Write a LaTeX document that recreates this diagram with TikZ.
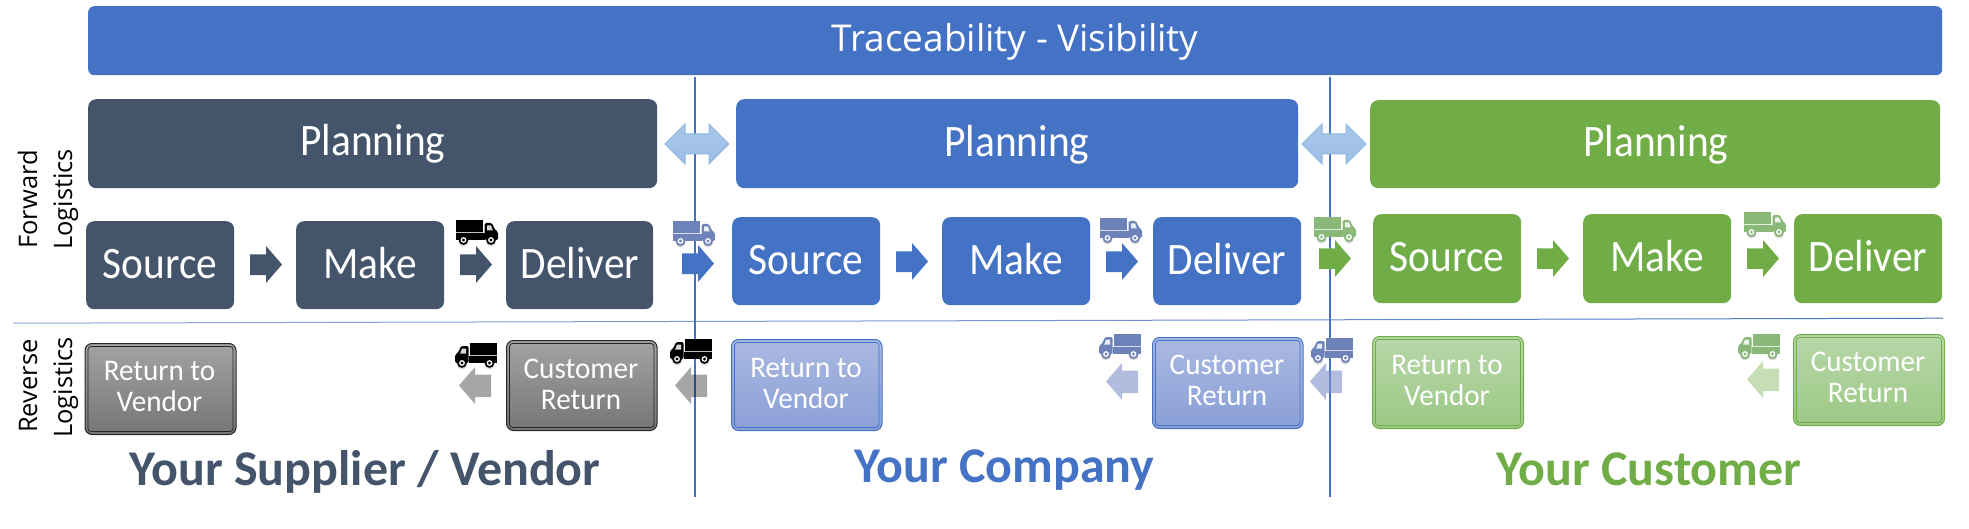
\documentclass[tikz,border=0pt]{standalone}
\usepackage{fontspec}
\setmainfont{Carlito}
\newfontfamily\sidefont{Open Sans}
\usetikzlibrary{calc}
\definecolor{navy}{HTML}{44546A}
\definecolor{corp}{HTML}{4472C4}
\definecolor{leaf}{HTML}{70AD47}
\definecolor{dbltop}{HTML}{ABC7EA}
\definecolor{dblbot}{HTML}{9CBDE6}
\definecolor{dbledge}{HTML}{8DB7E3}
\definecolor{truckblue}{HTML}{6C82B9}
\definecolor{truckleaf}{HTML}{8AB878}
\definecolor{arrowblue}{HTML}{7F90C8}
\tikzset{
  x=1pt,y=-1pt,
  solidbox/.style={fill=#1,draw=none,rounded corners=8pt},
  retnavy/.style={top color=black!36,bottom color=black!54,draw=black!85,line width=1pt,rounded corners=7pt},
  retcorp/.style={top color={rgb,255:red,170;green,185;blue,225},bottom color={rgb,255:red,138;green,159;blue,215},draw=corp,line width=1pt,rounded corners=7pt},
  retleaf/.style={top color={rgb,255:red,183;green,215;blue,168},bottom color={rgb,255:red,156;green,200;blue,133},draw=leaf,line width=1pt,rounded corners=7pt},
  innernavy/.style={draw=black!85,line width=.8pt,rounded corners=3pt},
  innercorp/.style={draw=corp,line width=.8pt,rounded corners=3pt},
  innerleaf/.style={draw=leaf,line width=.8pt,rounded corners=3pt},
  bigtext/.style={text=white,anchor=base,xscale=.92,yshift=-1.5pt,font=\fontsize{45}{45}\selectfont},
  rettext/.style={text=white,anchor=base,xscale=.97,font=\fontsize{30}{30}\selectfont},
  titletext/.style={text=#1,anchor=base,font=\fontsize{50}{50}\selectfont\bfseries},
  sidetext/.style={text=black,anchor=base,rotate=90,font=\sidefont\fontsize{25.5}{25.5}\selectfont},
  divider/.style={draw=corp,line width=1.1pt},
}
% solid box: name, x1, y1, x2, y2, colour, text, text x, baseline
\newcommand{\solidnode}[9]{%
  \node[solidbox=#6,minimum width=#4pt-#2pt,minimum height=#5pt-#3pt,inner sep=0pt,anchor=north west] (#1) at (#2,#3) {};
  \node[bigtext] (#1-t) at (#8,#9) {#7};
}
% double-framed return box: name, x1, y1, x2, y2, colour suffix, text x, baseline 1, text 1 / text 2
\newcommand{\retnode}[9]{%
  \node[ret#6,minimum width=#4pt-#2pt,minimum height=#5pt-#3pt,inner sep=0pt,anchor=north west] (#1) at (#2,#3) {};
  \draw[inner#6] ($(#1.north west)+(3.5,3.5)$) rectangle ($(#1.south east)+(-3.5,-3.5)$);
  \retlabels{#1}{#7}{#8}#9\relax
}
\def\retlabels#1#2#3#4/#5\relax{%
  \node[rettext] (#1-a) at (#2,#3) {#4};
  \node[rettext] (#1-b) at (#2,#3+31) {#5};
}
% right block arrow: left x, top y, colour
\newcommand{\arrowR}[3]{%
  \fill[#3] (#1,#2+8.5) -- (#1+16,#2+8.5) -- (#1+16,#2) -- (#1+32,#2+18.5) -- (#1+16,#2+37) -- (#1+16,#2+29) -- (#1,#2+29) -- cycle;
}
% left block arrow: left x, top y, colour and opacity
\newcommand{\arrowL}[4]{%
  \fill[#3,fill opacity=#4] (#1+32,#2+7.5) -- (#1+16,#2+7.5) -- (#1+16,#2) -- (#1,#2+18.5) -- (#1+16,#2+37) -- (#1+16,#2+30) -- (#1+32,#2+30) -- cycle;
}
% truck facing right, box 42x24
\tikzset{
  pics/truck/.style={code={
    \foreach \k/\o in {2.2/.10,1.2/.16}{
      \fill[black,opacity=\o] (0,\k+2) rectangle (27,\k+16);
      \fill[black,opacity=\o] (7.5,19.5+\k) circle (5);
      \fill[black,opacity=\o] (35,19.5+\k) circle (5);
    }
    \fill[#1] (0,0) rectangle (27,16.5);
    \fill[#1,rounded corners=1.5pt] (28.5,3) -- (36,3) -- (38.5,9) -- (42,12) -- (42,20) -- (28.5,20) -- cycle;
    \fill[#1] (0,13) rectangle (28.5,20);
    \fill[white,opacity=.85] (31,5.5) -- (35,5.5) -- (36.8,10.5) -- (31,10.5) -- cycle;
    \draw[white,opacity=.75,line width=.8pt] (0,12.5) -- (27.5,12.5);
    \foreach \c in {7.5,35}{
      \fill[#1] (\c,20) circle (4.8);
      \fill[white] (\c,20) circle (2.9);
      \fill[#1] (\c,20) circle (1.6);
    }
  }},
}
\begin{document}
\begin{tikzpicture}
\useasboundingbox (0,0) rectangle (1969,529);
% vertical and horizontal dividers
\coordinate (v1a) at (695,77); \coordinate (v1b) at (695,497);
\coordinate (v2a) at (1330,77); \coordinate (v2b) at (1330,497);
\shade[left color=corp!60!white,right color=corp,middle color=corp!75!white,draw=none] (13,322.7) -- (1943,317.7) -- (1943,318.7) -- (13,323.7) -- cycle;
\draw[divider] (v1a) -- (v1b);
\draw[divider] (v2a) -- (v2b);
% top bar
\node[solidbox=corp,rounded corners=6pt,minimum width=1854pt,minimum height=69pt,inner sep=0pt,anchor=north west] (trace) at (88,6) {};
\node[text=white,anchor=base,font=\sidefont\fontsize{37}{37}\selectfont] (trace-t) at (1015,52) {Traceability - Visibility};
% planning
\solidnode{plan1}{88}{99}{657}{188}{navy}{Planning}{373}{154}
\solidnode{plan2}{736}{99}{1298}{188}{corp}{Planning}{1017}{155}
\solidnode{plan3}{1370}{100}{1940}{188}{leaf}{Planning}{1656}{155}
% double arrows
\foreach \p in {665,1302}{
  \path[top color=dbltop,bottom color=dblbot,draw=dbledge,line width=1pt]
    (\p,144) -- (\p+20,124) -- (\p+20,134) -- (\p+44,134) -- (\p+44,124) -- (\p+64,144) -- (\p+44,164) -- (\p+44,154) -- (\p+20,154) -- (\p+20,164) -- cycle;
}
% forward row
\solidnode{src1}{86}{221}{234}{309}{navy}{Source}{160}{277}
\solidnode{mk1}{296}{221}{444}{309}{navy}{Make}{370}{277}
\solidnode{dl1}{506}{221}{653}{309}{navy}{Deliver}{580}{277}
\solidnode{src2}{732}{217}{880}{305}{corp}{Source}{806}{273}
\solidnode{mk2}{942}{217}{1090}{305}{corp}{Make}{1016}{273}
\solidnode{dl2}{1153}{217}{1301}{305}{corp}{Deliver}{1227}{273}
\solidnode{src3}{1373}{214}{1521}{303}{leaf}{Source}{1447}{270}
\solidnode{mk3}{1583}{214}{1731}{303}{leaf}{Make}{1657}{270}
\solidnode{dl3}{1794}{214}{1942}{303}{leaf}{Deliver}{1868}{270}
\arrowR{250}{246}{navy}
\arrowR{460}{246}{navy}
\arrowR{682}{245}{corp}
\arrowR{896}{243}{corp}
\arrowR{1106}{243}{corp}
\arrowR{1319}{240}{leaf}
\arrowR{1537}{240}{leaf}
\arrowR{1747}{240}{leaf}
\path (456,220) pic {truck=black};
\path (673,221) pic {truck=truckblue};
\path (1100,218) pic {truck=truckblue};
\path (1314,217) pic {truck=truckleaf};
\path (1744,212) pic {truck=truckleaf};
% reverse row
\retnode{rv1}{84.5}{343}{235.5}{434}{navy}{159.5}{380}{Return to/Vendor}
\retnode{cr1}{506}{340}{656.5}{430}{navy}{581}{378}{Customer/Return}
\retnode{rv2}{731}{339}{881.5}{430}{corp}{806}{377}{Return to/Vendor}
\retnode{cr2}{1152}{337}{1302.5}{428}{corp}{1227}{374}{Customer/Return}
\retnode{rv3}{1372}{336}{1523}{428}{leaf}{1447}{374}{Return to/Vendor}
\retnode{cr3}{1793}{334}{1944}{425}{leaf}{1868}{371}{Customer/Return}
\arrowL{459}{367}{black}{.35}
\arrowL{675}{367}{black}{.35}
\arrowL{1106}{363}{arrowblue}{.6}
\arrowL{1310}{363}{arrowblue}{.6}
\arrowL{1747}{361}{leaf}{.4}
\path (497,343) pic[xscale=-1] {truck=black};
\path (712,339) pic[xscale=-1] {truck=black};
\path (1141,334) pic[xscale=-1] {truck=truckblue};
\path (1353,338) pic[xscale=-1] {truck=truckblue};
\path (1780,334) pic[xscale=-1] {truck=truckleaf};
% side labels
\node[sidetext] (fwd) at (37,199.5) {Forward};
\node[sidetext] (fwdl) at (72,199.5) {Logistics};
\node[sidetext] (rev) at (37,386) {Reverse};
\node[sidetext] (revl) at (72,387.5) {Logistics};
% titles
\node[titletext=navy] (tv) at (365,485) {Your Supplier / Vendor};
\node[titletext=corp] (tc) at (1004.5,482) {Your Company};
\node[titletext=leaf] (tg) at (1649,485) {Your Customer};
\end{tikzpicture}
\end{document}
